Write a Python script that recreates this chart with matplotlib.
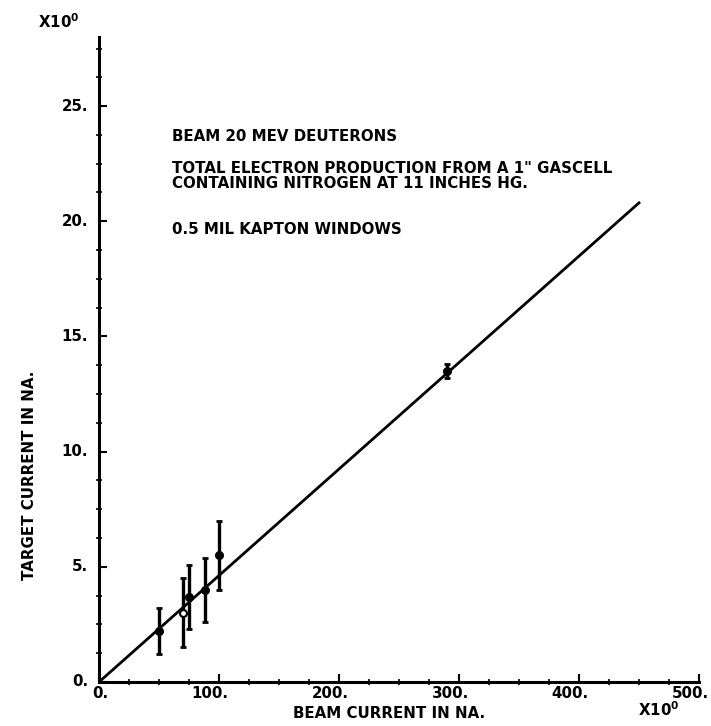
import matplotlib
matplotlib.use("Agg")
import matplotlib.pyplot as plt
import numpy as np
from matplotlib.ticker import MultipleLocator

# measured points (beam current nA, target current nA, error)
beam = [50, 70, 75, 88, 100, 290]
target = [2.2, 3.0, 3.7, 4.0, 5.5, 13.5]
err = [1.0, 1.5, 1.4, 1.4, 1.5, 0.3]
hollow = [False, True, False, False, False, False]

# fitted line end points
fit_x = [0, 450]
fit_y = [0, 20.8]

x_ticks = [0, 100, 200, 300, 400, 500]
x_ticklabels = ["0.", "100.", "200.", "300.", "400.", "500."]
y_ticks = [0, 5, 10, 15, 20, 25]
y_ticklabels = ["0.", "5.", "10.", "15.", "20.", "25."]

FONT = dict(family="DejaVu Sans", weight="bold", size=10.8)

fig = plt.figure(figsize=(7.11, 7.26), dpi=100)
ax = fig.add_axes([99 / 711, 44 / 726, 600 / 711, 645 / 726])
ax.set_xlim(0, 500)
ax.set_ylim(0, 28)

for s in ["top", "right"]:
    ax.spines[s].set_visible(False)
for s in ["left", "bottom"]:
    ax.spines[s].set_linewidth(2.2)

ax.set_xticks(x_ticks)
ax.set_yticks(y_ticks)
ax.set_xticklabels([])
ax.set_yticklabels([])
ax.xaxis.set_minor_locator(MultipleLocator(25))
ax.yaxis.set_minor_locator(MultipleLocator(1.25))
ax.tick_params(which="major", direction="in", length=6, width=1.5)
ax.tick_params(which="minor", direction="inout", length=5, width=1.2)

# tick labels placed by hand like the plotter output
for xv, lab in zip(x_ticks, x_ticklabels):
    ax.annotate(lab, (xv, 0), xytext=(7, -3), textcoords="offset points",
                ha="right", va="top", annotation_clip=False, **FONT)
for yv, lab in zip(y_ticks, y_ticklabels):
    ax.annotate(lab, (0, yv), xytext=(-8, 0), textcoords="offset points",
                ha="right", va="center", annotation_clip=False, **FONT)

ax.plot(fit_x, fit_y, color="black", lw=2)

for xv, yv, e, h in zip(beam, target, err, hollow):
    ax.errorbar(xv, yv, yerr=e, fmt="none", ecolor="black", elinewidth=2.4,
                capsize=2, capthick=2)
    ax.plot(xv, yv, "o", ms=5, mec="black", mew=1.5,
            mfc="white" if h else "black", zorder=5)

ax.text(61, 23.7, "BEAM 20 MEV DEUTERONS", va="center", **FONT)
ax.text(61, 21.95, "TOTAL ELECTRON PRODUCTION FROM A 1\" GASCELL\nCONTAINING NITROGEN AT 11 INCHES HG.",
        va="center", linespacing=1.0, **FONT)
ax.text(61, 19.65, "0.5 MIL KAPTON WINDOWS", va="center", **FONT)

fig.text(389 / 711, 1 - 713 / 726, "BEAM CURRENT IN NA.", ha="center", va="center", **FONT)
fig.text(30 / 711, 1 - 475 / 726, "TARGET CURRENT IN NA.", ha="center", va="center",
         rotation=90, **FONT)
fig.text(38 / 711, 1 - 22 / 726, "X10$^{\\mathbf{0}}$", ha="left", va="center", **FONT)
fig.text(638 / 711, 1 - 710 / 726, "X10$^{\\mathbf{0}}$", ha="left", va="center", **FONT)

fig.savefig("out.png", dpi=100)
